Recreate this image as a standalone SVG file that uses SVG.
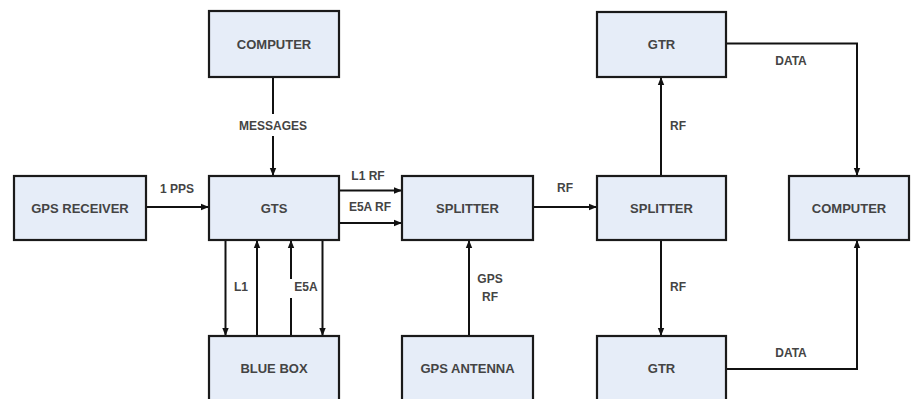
<svg xmlns="http://www.w3.org/2000/svg" width="911" height="399" viewBox="0 0 911 399">
<defs>
<marker id="ah" viewBox="0 0 8 8" refX="8" refY="4" markerWidth="8" markerHeight="8" markerUnits="userSpaceOnUse" orient="auto">
<path d="M0,0.8 L8,4 L0,7.2 Z" fill="#111"/>
</marker>
<style>
.box{fill:#E6EDF8;stroke:#1a1a1a;stroke-width:2.2}
.nt{font-family:"Liberation Sans",Arial,sans-serif;font-size:13px;font-weight:bold;fill:#444;text-anchor:middle}
.et{font-family:"Liberation Sans",Arial,sans-serif;font-size:12px;font-weight:bold;fill:#444;text-anchor:middle}
.ln{fill:none;stroke:#111;stroke-width:2}
.ar{fill:none;stroke:#111;stroke-width:2;marker-end:url(#ah)}
</style>
</defs>
<rect width="911" height="399" fill="#fff"/>
<g id="connectors">
<line class="ln" x1="273" y1="77" x2="273" y2="114"/>
<line class="ar" x1="273" y1="136" x2="273" y2="176"/>
<text class="et" x="273" y="129.5">MESSAGES</text>
<line class="ar" x1="146" y1="207" x2="209" y2="207"/>
<text class="et" x="177" y="192.5">1 PPS</text>
<line class="ar" x1="339" y1="190.5" x2="402" y2="190.5"/>
<text class="et" x="368" y="179.5">L1 RF</text>
<line class="ar" x1="339" y1="223" x2="402" y2="223"/>
<text class="et" x="370" y="211">E5A RF</text>
<line class="ar" x1="225.5" y1="240" x2="225.5" y2="336"/>
<line class="ar" x1="257" y1="336" x2="257" y2="240"/>
<line class="ln" x1="291" y1="336" x2="291" y2="298"/>
<line class="ar" x1="291" y1="279" x2="291" y2="240"/>
<line class="ar" x1="322.5" y1="240" x2="322.5" y2="336"/>
<text class="et" x="241" y="291">L1</text>
<text class="et" x="306" y="291">E5A</text>
<line class="ar" x1="533" y1="207" x2="597" y2="207"/>
<text class="et" x="565" y="192">RF</text>
<line class="ar" x1="469" y1="336" x2="469" y2="240"/>
<text class="et" x="490" y="282.5">GPS</text>
<text class="et" x="490" y="300.5">RF</text>
<line class="ar" x1="661" y1="176" x2="661" y2="77"/>
<text class="et" x="678" y="129.5">RF</text>
<line class="ar" x1="661" y1="240" x2="661" y2="336"/>
<text class="et" x="678" y="290.5">RF</text>
<polyline class="ar" points="726,43.5 857,43.5 857,176"/>
<text class="et" x="791" y="64.5">DATA</text>
<polyline class="ar" points="726,369 857,369 857,240"/>
<text class="et" x="791" y="357">DATA</text>
</g>
<g id="computer-top"><rect class="box" x="209" y="11" width="130" height="66"/><text class="nt" x="274" y="48.5">COMPUTER</text></g>
<g id="gps-receiver"><rect class="box" x="14" y="176" width="132" height="64"/><text class="nt" x="80" y="212.5">GPS RECEIVER</text></g>
<g id="gts"><rect class="box" x="209" y="176" width="130" height="64"/><text class="nt" x="274" y="212.5">GTS</text></g>
<g id="splitter1"><rect class="box" x="402" y="176" width="131" height="64"/><text class="nt" x="467.5" y="212.5">SPLITTER</text></g>
<g id="splitter2"><rect class="box" x="597" y="176" width="129" height="64"/><text class="nt" x="661.5" y="212.5">SPLITTER</text></g>
<g id="computer-right"><rect class="box" x="789" y="176" width="120" height="64"/><text class="nt" x="849" y="212.5">COMPUTER</text></g>
<g id="gtr-top"><rect class="box" x="597" y="12" width="129" height="65"/><text class="nt" x="661.5" y="49">GTR</text></g>
<g id="blue-box"><rect class="box" x="209" y="336" width="130" height="80"/><text class="nt" x="274" y="372.5">BLUE BOX</text></g>
<g id="gps-antenna"><rect class="box" x="402" y="336" width="131" height="80"/><text class="nt" x="467.5" y="372.5">GPS ANTENNA</text></g>
<g id="gtr-bottom"><rect class="box" x="597" y="336" width="129" height="80"/><text class="nt" x="661.5" y="372.5">GTR</text></g>
</svg>
